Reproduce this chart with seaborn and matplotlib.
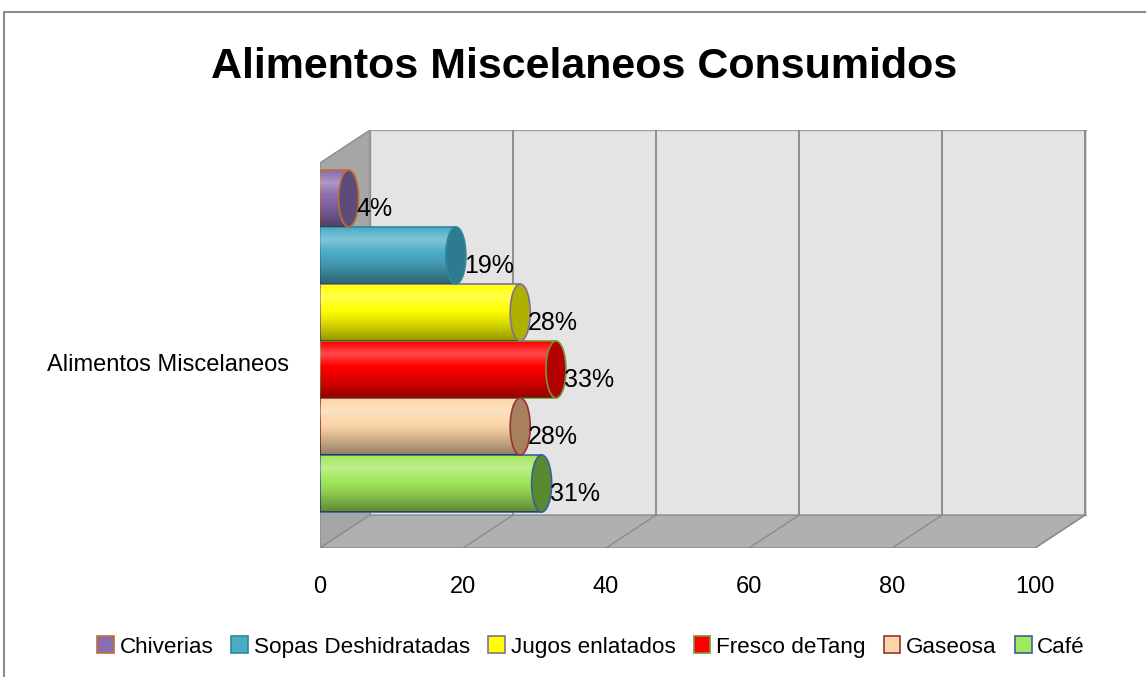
import seaborn as sns
import matplotlib.pyplot as plt
import matplotlib.transforms as mtransforms
from matplotlib.patches import Rectangle, Polygon, Ellipse, Patch
import numpy as np
import pandas as pd

categoria = ["Alimentos Miscelaneos"]
series = ["Chiverias", "Sopas Deshidratadas", "Jugos enlatados",
          "Fresco deTang", "Gaseosa", "Café"]
valores = [4, 19, 28, 33, 28, 31]
etiquetas = ["4%", "19%", "28%", "33%", "28%", "31%"]

colores = ["#8a6cb0", "#4bacc6", "#ffff00", "#ff0000", "#fcd5a8", "#a2e85c"]
bordes = ["#c0702d", "#31859c", "#7f6fa0", "#77933c", "#943634", "#3a5f9f"]
tapas = ["#5f4b7a", "#2e7a8e", "#b0b000", "#b00000", "#a88060", "#5a8a30"]

sns.set_style("white")
plt.rcParams['font.family'] = ['Liberation Sans', 'DejaVu Sans']
plt.rcParams['text.color'] = 'black'
plt.rcParams['xtick.color'] = 'black'
plt.rcParams['ytick.color'] = 'black'

data = pd.DataFrame({
    'categoria': categoria * len(series),
    'serie': series,
    'valor': valores,
})

fig = plt.figure(figsize=(11.46, 6.77), dpi=100)
ax = fig.add_axes([320 / 1146, 1 - 548 / 677, (1087 - 320) / 1146, (548 - 130) / 677])

XMAX = 107.27
Y_TOP, Y_BOT = -0.4936, 0.4842
DX, DY = 7.0, 0.077

# paredes 3D
ax.add_patch(Rectangle((DX, Y_TOP), XMAX - DX, Y_BOT - DY - Y_TOP,
                       facecolor="#e4e4e4", edgecolor="#a0a0a0", lw=1, zorder=0))
ax.add_patch(Polygon([(0, Y_BOT), (DX, Y_BOT - DY), (DX, Y_TOP), (0, Y_TOP + DY)],
                     closed=True, facecolor="#a6a6a6", edgecolor="#8c8c8c", lw=1, zorder=0))
ax.add_patch(Polygon([(0, Y_BOT), (100, Y_BOT), (100 + DX, Y_BOT - DY), (DX, Y_BOT - DY)],
                     closed=True, facecolor="#b0b0b0", edgecolor="#8c8c8c", lw=1, zorder=0))
for t in range(20, 101, 20):
    ax.plot([t + DX, t + DX], [Y_TOP, Y_BOT - DY], color="#808080", lw=1.2, zorder=0.5)
    ax.plot([t, t + DX], [Y_BOT, Y_BOT - DY], color="#8c8c8c", lw=1, zorder=0.5)

sns.barplot(data=data, x='valor', y='categoria', hue='serie', hue_order=series,
            palette=colores, saturation=1, orient='h', width=0.8, legend=False,
            ax=ax, zorder=2)

# degradado del cilindro (blanco arriba, negro abajo)
t = np.linspace(0, 1, 64)
brillo = np.clip(1 - np.abs(t - 0.22) / 0.22, 0, 1) * 0.3
sombra = np.clip((t - 0.45) / 0.55, 0, 1) ** 1.2 * 0.42
img_brillo = np.zeros((64, 1, 4))
img_brillo[..., :3] = 1
img_brillo[:, 0, 3] = brillo
img_sombra = np.zeros((64, 1, 4))
img_sombra[:, 0, 3] = sombra

for cont, borde, tapa, etiqueta in zip(ax.containers, bordes, tapas, etiquetas):
    for barra in cont:
        barra.set_edgecolor(borde)
        barra.set_linewidth(1.2)
        x0 = barra.get_x()
        w = barra.get_width()
        h = barra.get_height()
        y0 = barra.get_y()
        for img in (img_brillo, img_sombra):
            im = ax.imshow(img, extent=[x0, x0 + w, y0 + h, y0], aspect='auto',
                           interpolation='bilinear', zorder=2.1)
            im.set_clip_path(barra)
        x = x0 + w
        yc = y0 + h / 2
        ax.add_patch(Ellipse((x, yc), 2.8, h, facecolor=tapa,
                             edgecolor=borde, lw=1.2, zorder=3))
        ax.text(x + 1.1, yc + 0.025, etiqueta, fontsize=18, ha='left', va='center', zorder=4)

ax.set_xlim(0, XMAX)
ax.set_ylim(Y_BOT, Y_TOP)
sns.despine(ax=ax, left=True, bottom=True)
ax.set_xticks(range(0, 101, 20))
ax.tick_params(axis='x', length=0, pad=20, labelsize=17)
ax.tick_params(axis='y', length=0, pad=22, labelsize=17)
offset = mtransforms.ScaledTranslation(0, -0.21, fig.dpi_scale_trans)
for lab in ax.get_yticklabels():
    lab.set_transform(lab.get_transform() + offset)
ax.set_xlabel('')
ax.set_ylabel('')

fig.text(584 / 1146, 1 - 78 / 677, "Alimentos Miscelaneos Consumidos",
         fontsize=31, fontweight='bold', ha='center', va='baseline')

manejadores = [Patch(facecolor=c, edgecolor=b, lw=1.2) for c, b in zip(colores, bordes)]
fig.legend(manejadores, series, loc='center', bbox_to_anchor=(591 / 1146, 1 - 647 / 677),
           ncol=6, frameon=False, fontsize=16.2, handlelength=0.75, handleheight=0.75,
           handletextpad=0.25, columnspacing=0.8)

fig.add_artist(plt.Line2D([4 / 1146, 1], [1 - 12 / 677, 1 - 12 / 677],
                          transform=fig.transFigure, color="#8c8c8c", lw=1.5))
fig.add_artist(plt.Line2D([4 / 1146, 4 / 1146], [0, 1 - 12 / 677],
                          transform=fig.transFigure, color="#8c8c8c", lw=1.5))

plt.savefig('out.png', dpi=100)
